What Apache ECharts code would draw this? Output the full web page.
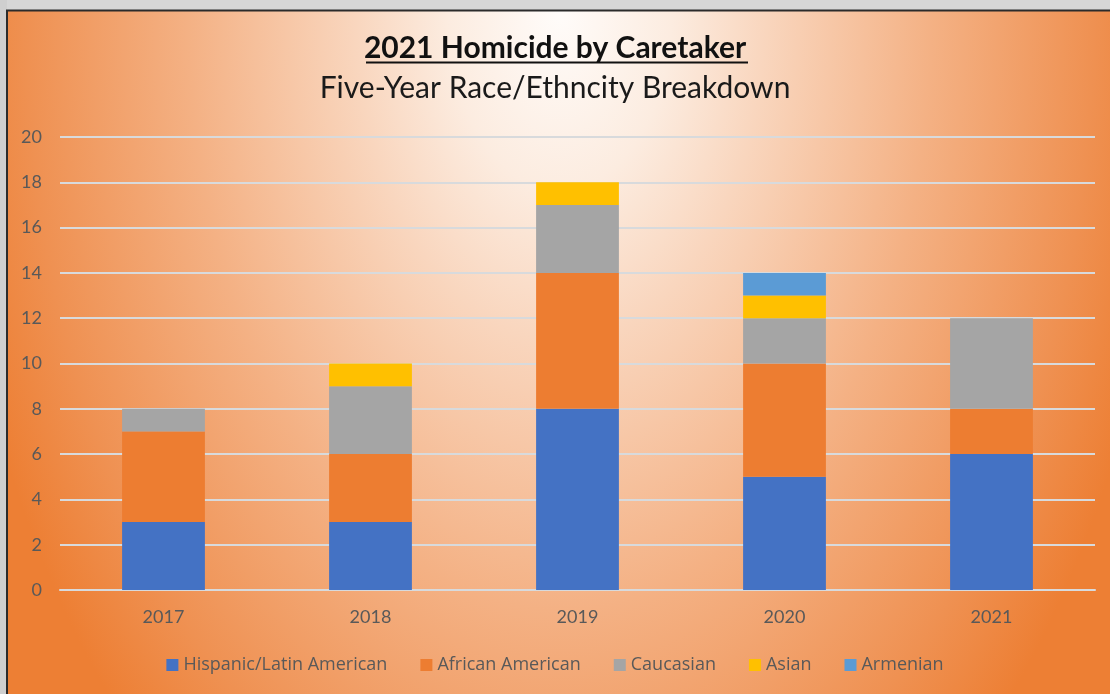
<!DOCTYPE html>
<html>
<head>
<meta charset="utf-8">
<style>
  html, body { margin: 0; padding: 0; background: #d4d4d4; }
  #chart { width: 1110px; height: 694px; }
</style>
<script src="https://cdn.jsdelivr.net/npm/echarts@6/dist/echarts.min.js"></script>
</head>
<body>
<div id="chart"></div>
<script>
// Homicide by caretaker, stacked by race/ethnicity, 2017-2021
const years = ['2017', '2018', '2019', '2020', '2021'];
const hispanic = [3, 3, 8, 5, 6];
const african = [4, 3, 6, 5, 2];
const caucasian = [1, 3, 3, 2, 4];
const asian = [0, 1, 1, 1, 0];
const armenian = [0, 0, 0, 1, 0];
const seriesNames = ['Hispanic/Latin American', 'African American', 'Caucasian', 'Asian', 'Armenian'];
const seriesColors = ['#4472C4', '#ED7D31', '#A5A5A5', '#FFC000', '#5B9BD5'];
const yTicks = [0, 2, 4, 6, 8, 10, 12, 14, 16, 18, 20];

const FONT = 'Lato, "Open Sans", sans-serif';
const LEGEND_FONT = '"Open Sans", Lato, sans-serif';
const chart = echarts.init(document.getElementById('chart'));

const values = [hispanic, african, caucasian, asian, armenian];
const series = seriesNames.map((name, i) => ({
  name: name,
  type: 'bar',
  stack: 'total',
  barCategoryGap: '60%',
  itemStyle: { color: seriesColors[i] },
  data: values[i].map(v => (v === 0 ? null : v))
}));

// elliptical radial backdrop: near white at the top centre, orange toward the edges
const RX = 620, RY = 1000;

chart.setOption({
  backgroundColor: 'transparent',
  textStyle: { fontFamily: FONT },
  graphic: [
    {
      type: 'rect', z: -100, silent: true,
      x: 560, y: 10, scaleX: RX / RY,
      shape: { x: -RY, y: -RY, width: 2 * RY, height: 2 * RY },
      style: {
        fill: {
          type: 'radial', x: 0.5, y: 0.5, r: 0.5,
          colorStops: [
            { offset: 0, color: '#fffcfa' },
            { offset: 0.18, color: '#fcece0' },
            { offset: 0.33, color: '#f9d6be' },
            { offset: 0.6, color: '#f4b184' },
            { offset: 0.86, color: '#ef9152' },
            { offset: 1, color: '#ed7f34' }
          ]
        }
      }
    },
    // surrounding grey margin and frame edge
    { type: 'rect', z: -90, silent: true, shape: { x: 0, y: 0, width: 1110, height: 10 }, style: { fill: '#d6d6d6' } },
    { type: 'rect', z: -90, silent: true, shape: { x: 0, y: 0, width: 7, height: 694 }, style: { fill: '#cfcfcf' } },
    { type: 'polyline', z: -80, silent: true, shape: { points: [[7, 694], [7, 10.5], [1110, 10.5]] }, style: { stroke: '#2b2b2b', lineWidth: 2, fill: null } },
    // title underline
    { type: 'line', z: 10, silent: true, shape: { x1: 366, y1: 62.5, x2: 748, y2: 62.5 }, style: { stroke: '#111', lineWidth: 2 } }
  ],
  title: [
    {
      text: '2021 Homicide by Caretaker',
      left: 'center', top: 28,
      textStyle: { fontFamily: FONT, fontSize: 30, fontWeight: 'bold', color: '#111' }
    },
    {
      text: 'Five-Year Race/Ethncity Breakdown',
      left: 'center', top: 68,
      textStyle: { fontFamily: FONT, fontSize: 30, fontWeight: 'normal', color: '#1a1a1a' }
    }
  ],
  legend: {
    top: 651, left: 'center',
    itemWidth: 12, itemHeight: 12, itemGap: 33,
    icon: 'rect',
    textStyle: { fontFamily: LEGEND_FONT, fontSize: 18, color: '#595959' },
    data: seriesNames
  },
  grid: { left: 60, right: 15, top: 137, bottom: 104, containLabel: false },
  xAxis: {
    type: 'category',
    data: years,
    axisLine: { show: true, lineStyle: { color: '#d8dadc', width: 2 } },
    axisTick: { show: false },
    axisLabel: { fontFamily: FONT, fontSize: 18, color: '#595959', margin: 18 }
  },
  yAxis: {
    type: 'value',
    min: yTicks[0], max: yTicks[yTicks.length - 1], interval: 2,
    axisLine: { show: false },
    axisTick: { show: false },
    splitLine: { lineStyle: { color: '#d8dadc', width: 2 } },
    axisLabel: { fontFamily: FONT, fontSize: 18, color: '#595959', margin: 18 }
  },
  series: series
});
</script>
</body>
</html>
